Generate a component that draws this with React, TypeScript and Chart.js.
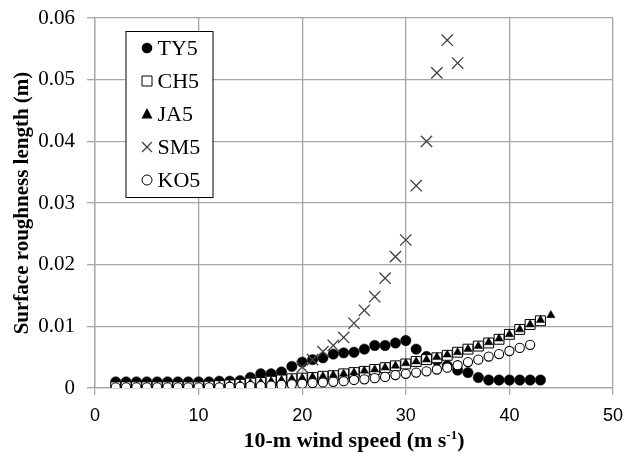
import React, { useEffect, useRef } from 'react';
import { Chart, registerables } from 'chart.js';

Chart.register(...registerables);

// ---- data ----
const windSpeeds = [2, 3, 4, 5, 6, 7, 8, 9, 10, 11, 12, 13, 14, 15, 16, 17, 18, 19, 20, 21, 22, 23, 24, 25, 26, 27, 28, 29, 30, 31, 32, 33, 34, 35, 36, 37, 38, 39, 40, 41, 42, 43, 44];

const ty5 = [0.0010, 0.0010, 0.0010, 0.0010, 0.0010, 0.0010, 0.0010, 0.0010, 0.0010, 0.0010, 0.0011, 0.0011, 0.0012, 0.0017, 0.0023, 0.0023, 0.0026, 0.0035, 0.0042, 0.0046, 0.0049, 0.0055, 0.0057, 0.0058, 0.0063, 0.0069, 0.0069, 0.0073, 0.0077, 0.0063, 0.0051, 0.0045, 0.0036, 0.0029, 0.0025, 0.0017, 0.0013, 0.0013, 0.0013, 0.0013, 0.0013, 0.0013, null];

const ch5 = [0.0002, 0.0002, 0.0002, 0.0002, 0.0002, 0.0002, 0.0002, 0.0002, 0.0002, 0.0003, 0.0004, 0.0005, 0.0006, 0.0008, 0.0009, 0.0011, 0.0013, 0.0015, 0.0016, 0.0017, 0.0019, 0.0020, 0.0023, 0.0025, 0.0027, 0.0030, 0.0033, 0.0036, 0.0039, 0.0043, 0.0046, 0.0049, 0.0053, 0.0058, 0.0063, 0.0068, 0.0073, 0.0079, 0.0087, 0.0095, 0.0103, 0.0109, null];

const ja5 = [0.0002, 0.0002, 0.0002, 0.0002, 0.0002, 0.0002, 0.0002, 0.0002, 0.0002, 0.0003, 0.0004, 0.0005, 0.0006, 0.0008, 0.0009, 0.0011, 0.0013, 0.0015, 0.0016, 0.0018, 0.0019, 0.0021, 0.0023, 0.0025, 0.0028, 0.0030, 0.0033, 0.0036, 0.0040, 0.0043, 0.0046, 0.0050, 0.0054, 0.0058, 0.0063, 0.0068, 0.0074, 0.0080, 0.0087, 0.0095, 0.0103, 0.0110, 0.0118];

const sm5 = [null, null, null, null, null, null, null, null, null, null, null, null, null, null, null, null, null, null, 0.0034, 0.0046, 0.0059, 0.0069, 0.0082, 0.0105, 0.0126, 0.0148, 0.0178, 0.0213, 0.0240, 0.0328, 0.0400, 0.0511, 0.0564, 0.0527, null, null, null, null, null, null, null, null, null];

const ko5 = [0.0001, 0.0001, 0.0001, 0.0001, 0.0001, 0.0001, 0.0001, 0.0001, 0.0001, 0.0001, 0.0001, 0.0002, 0.0002, 0.0003, 0.0003, 0.0004, 0.0005, 0.0006, 0.0007, 0.0008, 0.0009, 0.0010, 0.0011, 0.0013, 0.0014, 0.0016, 0.0018, 0.0021, 0.0023, 0.0025, 0.0027, 0.0030, 0.0033, 0.0037, 0.0042, 0.0046, 0.0051, 0.0055, 0.0060, 0.0065, 0.0070, null, null];

const xTicks = [0, 10, 20, 30, 40, 50];
const yTicks = [0, 0.01, 0.02, 0.03, 0.04, 0.05, 0.06];
const seriesNames = ['TY5', 'CH5', 'JA5', 'SM5', 'KO5'];

const SERIF = '"Liberation Serif", "Times New Roman", serif';
const SANS = '"Liberation Sans", Arial, sans-serif';
const GRID = '#a6a6a6';

function toPoints(vals: (number | null)[]) {
  return windSpeeds
    .map((x, i) => ({ x, y: vals[i] }))
    .filter((p) => p.y !== null) as { x: number; y: number }[];
}

type Mk = 'dot' | 'square' | 'triangle' | 'cross' | 'ring';
const markerKinds: Mk[] = ['dot', 'square', 'triangle', 'cross', 'ring'];

function drawMarker(ctx: CanvasRenderingContext2D, kind: Mk, x: number, y: number) {
  ctx.save();
  ctx.lineWidth = 1;
  ctx.strokeStyle = '#000';
  ctx.fillStyle = '#000';
  ctx.beginPath();
  if (kind === 'dot') {
    ctx.arc(x, y, 5.3, 0, Math.PI * 2);
    ctx.fill();
  } else if (kind === 'square') {
    ctx.fillStyle = '#fff';
    ctx.rect(x - 5, y - 5, 10, 10);
    ctx.fill();
    ctx.stroke();
  } else if (kind === 'triangle') {
    ctx.moveTo(x, y - 6);
    ctx.lineTo(x + 5.5, y + 4.5);
    ctx.lineTo(x - 5.5, y + 4.5);
    ctx.closePath();
    ctx.fill();
  } else if (kind === 'cross') {
    ctx.strokeStyle = '#404040';
    ctx.lineWidth = 1.3;
    ctx.moveTo(x - 5, y - 5);
    ctx.lineTo(x + 5, y + 5);
    ctx.moveTo(x + 5, y - 5);
    ctx.lineTo(x - 5, y + 5);
    ctx.stroke();
  } else {
    ctx.fillStyle = '#fff';
    ctx.arc(x, y, 5, 0, Math.PI * 2);
    ctx.fill();
    ctx.stroke();
  }
  ctx.restore();
}

const boxLegend = {
  id: 'boxLegend',
  afterDatasetsDraw(chart: any) {
    const { ctx, chartArea } = chart;
    const left = chartArea.left + 30.5;
    const top = chartArea.top + 13;
    const w = 87;
    const h = 166;
    ctx.save();
    ctx.fillStyle = '#fff';
    ctx.fillRect(left, top, w, h);
    ctx.strokeStyle = '#000';
    ctx.lineWidth = 1;
    ctx.strokeRect(left + 0.5, top + 0.5, w, h);
    ctx.font = `22px ${SERIF}`;
    ctx.textBaseline = 'middle';
    ctx.textAlign = 'left';
    ctx.fillStyle = '#000';
    chart.data.datasets.forEach((ds: any, i: number) => {
      const cy = top + 17 + i * 33;
      drawMarker(ctx, markerKinds[i], left + 21.5, cy);
      ctx.fillText(ds.label, left + 32, cy + 1);
    });
    ctx.restore();
  },
};

const xTitle = {
  id: 'xTitle',
  afterDraw(chart: any) {
    const { ctx, chartArea } = chart;
    const main = '10-m wind speed (m s';
    const sup = '-1';
    const end = ')';
    ctx.save();
    ctx.fillStyle = '#000';
    ctx.textBaseline = 'alphabetic';
    ctx.textAlign = 'left';
    const big = `bold 22px ${SERIF}`;
    const small = `bold 13px ${SERIF}`;
    ctx.font = big;
    const w1 = ctx.measureText(main).width;
    const w3 = ctx.measureText(end).width;
    ctx.font = small;
    const w2 = ctx.measureText(sup).width;
    const total = w1 + w2 + w3;
    const cx = (chartArea.left + chartArea.right) / 2;
    let x = cx - total / 2;
    const base = 446.5;
    ctx.font = big;
    ctx.fillText(main, x, base);
    x += w1;
    ctx.font = small;
    ctx.fillText(sup, x, base - 8);
    x += w2;
    ctx.font = big;
    ctx.fillText(end, x, base);
    ctx.restore();
  },
};

export default function App() {
  const ref = useRef<HTMLCanvasElement | null>(null);

  useEffect(() => {
    document.body.style.margin = '0';
    const canvas = ref.current;
    if (!canvas) return;

    const chart = new Chart(canvas, {
      type: 'scatter',
      data: {
        datasets: [
          {
            label: seriesNames[0],
            data: toPoints(ty5),
            pointStyle: 'circle',
            pointRadius: 5.2,
            pointBackgroundColor: '#000',
            pointBorderColor: '#000',
            pointBorderWidth: 0.5,
            order: 5,
          },
          {
            label: seriesNames[1],
            data: toPoints(ch5),
            pointStyle: 'rect',
            pointRadius: 7,
            pointBackgroundColor: '#fff',
            pointBorderColor: '#000',
            pointBorderWidth: 1,
            order: 4,
          },
          {
            label: seriesNames[2],
            data: toPoints(ja5),
            pointStyle: 'triangle',
            pointRadius: 4.8,
            pointBackgroundColor: '#000',
            pointBorderColor: '#000',
            pointBorderWidth: 0.5,
            order: 3,
          },
          {
            label: seriesNames[3],
            data: toPoints(sm5),
            pointStyle: 'crossRot',
            pointRadius: 8,
            pointBorderColor: '#404040',
            pointBackgroundColor: '#404040',
            pointBorderWidth: 1.3,
            order: 2,
          },
          {
            label: seriesNames[4],
            data: toPoints(ko5),
            pointStyle: 'circle',
            pointRadius: 4.6,
            pointBackgroundColor: '#fff',
            pointBorderColor: '#000',
            pointBorderWidth: 1.1,
            order: 1,
          },
        ],
      },
      options: {
        animation: false,
        responsive: false,
        events: [],
        layout: { padding: { left: 0, right: 12, top: 18, bottom: 0 } },
        plugins: {
          legend: { display: false },
          tooltip: { enabled: false },
        },
        scales: {
          x: {
            type: 'linear',
            min: xTicks[0],
            max: xTicks[xTicks.length - 1],
            afterBuildTicks: (s: any) => {
              s.ticks = xTicks.map((v) => ({ value: v }));
            },
            afterFit: (s: any) => {
              s.height = 64;
              s.paddingLeft = 0;
              s.paddingRight = 0;
            },
            grid: { color: GRID, lineWidth: 1.3, tickLength: 7, tickColor: GRID },
            border: { color: GRID, width: 1.3 },
            ticks: {
              color: '#000',
              font: { family: SANS, size: 18 },
              padding: 10,
              maxRotation: 0,
              callback: (v: any) => String(v),
            },
          },
          y: {
            type: 'linear',
            min: yTicks[0],
            max: yTicks[yTicks.length - 1],
            afterBuildTicks: (s: any) => {
              s.ticks = yTicks.map((v) => ({ value: v }));
            },
            afterFit: (s: any) => {
              s.width = 95;
              s.paddingTop = 0;
              s.paddingBottom = 0;
            },
            grid: { color: GRID, lineWidth: 1.3, tickLength: 8, tickColor: GRID },
            border: { color: GRID, width: 1.3 },
            ticks: {
              color: '#000',
              font: { family: SERIF, size: 21 },
              padding: 12,
              callback: (v: any) => (Number(v) === 0 ? '0' : Number(v).toFixed(2)),
            },
            title: {
              display: true,
              text: 'Surface roughness length (m)',
              color: '#000',
              font: { family: SERIF, size: 21, weight: 'bold' },
              padding: { top: 10, bottom: 0 },
            },
          },
        },
      },
      plugins: [boxLegend, xTitle],
    });

    return () => chart.destroy();
  }, []);

  return (
    <div style={{ width: 625, height: 452, background: '#fff' }}>
      <canvas ref={ref} width={625} height={452} style={{ display: 'block' }} />
    </div>
  );
}
